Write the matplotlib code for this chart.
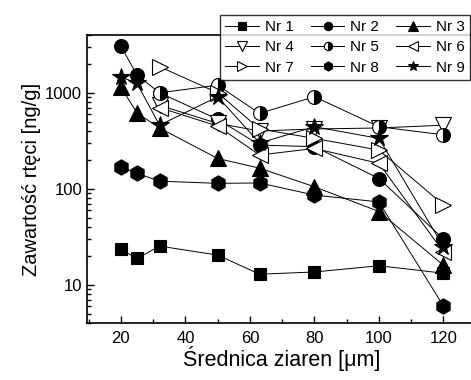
"""Zawartość rtęci vs średnica ziaren (Nr 1 - Nr 9)."""

import numpy as np
import matplotlib

matplotlib.use("Agg")
import matplotlib.pyplot as plt
from matplotlib.ticker import LogLocator, NullFormatter, MultipleLocator

plt.rcParams["font.family"] = ["Liberation Sans", "DejaVu Sans"]

nan = np.nan

# grain diameter [um]
srednica = [20, 25, 32, 50, 63, 80, 100, 120]

# mercury content [ng/g]
nr1 = [23.4, 18.8, 25.3, 20.4, 12.9, 13.6, 15.8, 13.2]
nr2 = [3060, 1530, 1000, 530, 285, 275, 128, 30]
nr3 = [1150, 615, 430, 207, 164, 105, 58, 16]
nr4 = [nan, nan, 740, 480, 400, 420, 430, 460]
nr5 = [nan, nan, 1000, 1200, 610, 910, 443, 365]
nr6 = [nan, nan, 700, 450, 225, 263, 184, 22]
nr7 = [nan, nan, 1870, 1000, 420, 335, 253, 68]
nr8 = [169, 145, 120, 114, 115, 86, 73, 6]
nr9 = [1470, 1250, 460, 910, 300, 443, 335, 25]

nazwy = ["Nr 1", "Nr 2", "Nr 3", "Nr 4", "Nr 5", "Nr 6", "Nr 7", "Nr 8", "Nr 9"]
serie = [nr1, nr2, nr3, nr4, nr5, nr6, nr7, nr8, nr9]

# marker styles for each series
style = [
    dict(marker="s", mfc="black", ms=9),
    dict(marker="o", mfc="black", ms=10),
    dict(marker="^", mfc="black", ms=11),
    dict(marker="v", mfc="white", ms=11),
    dict(marker="o", mfc="black", fillstyle="right", markerfacecoloralt="white", ms=10),
    dict(marker="<", mfc="white", ms=11),
    dict(marker=">", mfc="white", ms=11),
    dict(marker="h", mfc="black", ms=11),
    dict(marker="*", mfc="black", ms=13),
]

fig = plt.figure(figsize=(4.71, 3.80), dpi=100)
ax = fig.add_axes([87 / 471, 1 - 323 / 380, 1.01 - 87 / 471, (323 - 35) / 380])

handles = []
for nazwa, y, st in zip(nazwy, serie, style):
    (h,) = ax.plot(
        srednica, y, color="black", lw=0.7, mec="black", mew=0.8,
        label=nazwa, **st
    )
    handles.append(h)

ax.set_yscale("log")
ax.set_xlim(9.5, 130)
ax.set_ylim(4.0, 4000)

ax.xaxis.set_major_locator(MultipleLocator(20))
ax.xaxis.set_minor_locator(MultipleLocator(10))
ax.yaxis.set_minor_locator(LogLocator(base=10, subs=np.arange(2, 10), numticks=20))
ax.yaxis.set_minor_formatter(NullFormatter())
ax.set_yticks([10, 100, 1000])
ax.set_yticklabels(["10", "100", "1000"])

ax.tick_params(which="both", direction="in", top=False, right=False,
               labelsize=12, width=1.0)
ax.tick_params(which="major", length=5)
ax.tick_params(which="minor", length=3)
ax.tick_params(axis="x", pad=6)
for sp in ax.spines.values():
    sp.set_linewidth(1.2)

ax.set_xlabel("Średnica ziaren [μm]", fontsize=15.5, labelpad=0)
ax.set_ylabel("Zawartość rtęci [ng/g]", fontsize=14.5, labelpad=3)

# legend laid out row-wise: Nr1 Nr2 Nr3 / Nr4 Nr5 Nr6 / Nr7 Nr8 Nr9
order = [0, 3, 6, 1, 4, 7, 2, 5, 8]
leg = fig.legend(
    [handles[i] for i in order], [nazwy[i] for i in order],
    ncol=3, loc="upper left",
    bbox_to_anchor=(220 / 471, 1 - 78 / 380, 250 / 471, 63 / 380),
    mode="expand", fontsize=11, frameon=True, fancybox=False,
    borderaxespad=0, handlelength=2.2, handletextpad=0.4,
    columnspacing=0.8, labelspacing=0.4, markerscale=0.6, borderpad=0.35,
)
leg.get_frame().set_edgecolor("black")
leg.get_frame().set_linewidth(1.0)

fig.savefig("out.png", dpi=100)
